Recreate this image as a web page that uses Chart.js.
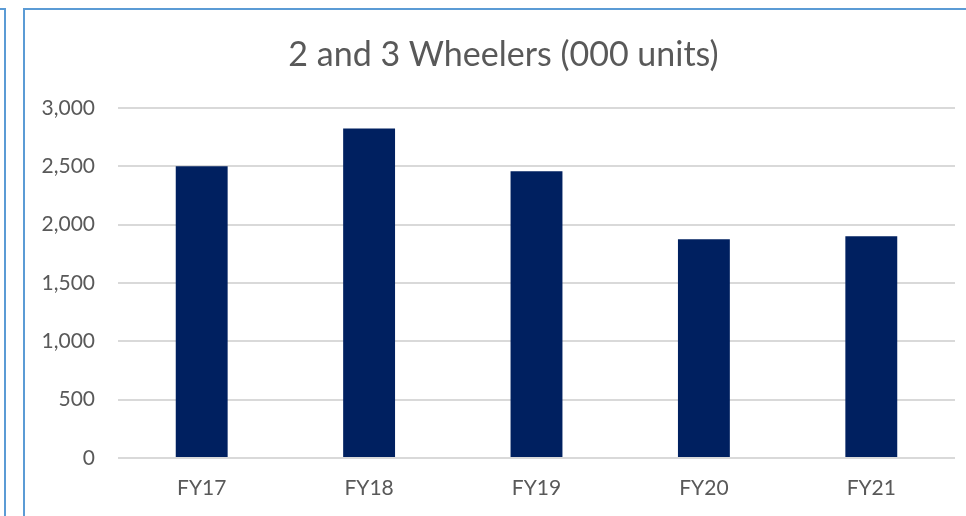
<!DOCTYPE html>
<html>
<head>
<meta charset="utf-8">
<title>2 and 3 Wheelers</title>
<script src="https://cdn.jsdelivr.net/npm/chart.js@4/dist/chart.umd.min.js"></script>
<style>
  html, body { margin: 0; padding: 0; background: #fff; overflow: hidden; }
  #wrap { position: relative; width: 966px; height: 516px; }
  .frame { position: absolute; border: 2px solid #5b9bd5; box-sizing: border-box; }
  #prev { left: -200px; top: 8px; width: 206px; height: 1000px; }
  #box { left: 23px; top: 8px; width: 2000px; height: 1000px; }
  canvas { position: absolute; left: 0; top: 0; }
</style>
</head>
<body>
<div id="wrap">
  <div class="frame" id="prev"></div>
  <div class="frame" id="box"></div>
  <canvas id="chart" width="966" height="516"></canvas>
</div>
<script>
// data
const categories = ["FY17", "FY18", "FY19", "FY20", "FY21"];
const units = [2500, 2823, 2457, 1875, 1900];
const yTicks = [0, 500, 1000, 1500, 2000, 2500, 3000];

const grey = "#595959";
const fontFamily = "Lato, 'Open Sans', sans-serif";

// the chart box runs past the right edge of the picture, so the title
// is centred on the whole box (x 23 .. 984), not just the visible part
const centreTitle = {
  id: "centreTitle",
  afterLayout(chart) {
    if (chart.titleBlock) {
      chart.titleBlock.left = 23;
      chart.titleBlock.right = 984;
    }
  },
};

const ctx = document.getElementById("chart").getContext("2d");

new Chart(ctx, {
  type: "bar",
  data: {
    labels: categories,
    datasets: [
      {
        label: "2 and 3 Wheelers",
        data: units,
        backgroundColor: "#002060",
        categoryPercentage: 1,
        barPercentage: 0.31,
      },
    ],
  },
  options: {
    responsive: false,
    animation: false,
    layout: { padding: { left: 20, right: 11, top: 0, bottom: 0 } },
    plugins: {
      legend: { display: false },
      tooltip: { enabled: false },
      title: {
        display: true,
        text: "2 and 3 Wheelers (000 units)",
        color: grey,
        font: { family: fontFamily, size: 34, weight: "normal" },
        padding: { top: 35, bottom: 32 },
      },
    },
    scales: {
      x: {
        grid: { display: false },
        border: { display: false },
        ticks: {
          color: grey,
          font: { family: fontFamily, size: 21 },
          padding: 10,
        },
        afterFit: (scale) => {
          scale.height = 58;
        },
      },
      y: {
        min: 0,
        max: 3000,
        afterBuildTicks: (scale) => {
          scale.ticks = yTicks.map((v) => ({ value: v }));
        },
        grid: { color: "#d9d9d9", lineWidth: 2, drawTicks: false },
        border: { display: false },
        ticks: {
          color: grey,
          font: { family: fontFamily, size: 21 },
          padding: 23,
          callback: (v) => v.toLocaleString("en-US"),
        },
        afterFit: (scale) => {
          scale.width = 98;
        },
      },
    },
  },
  plugins: [centreTitle],
});
</script>
</body>
</html>
